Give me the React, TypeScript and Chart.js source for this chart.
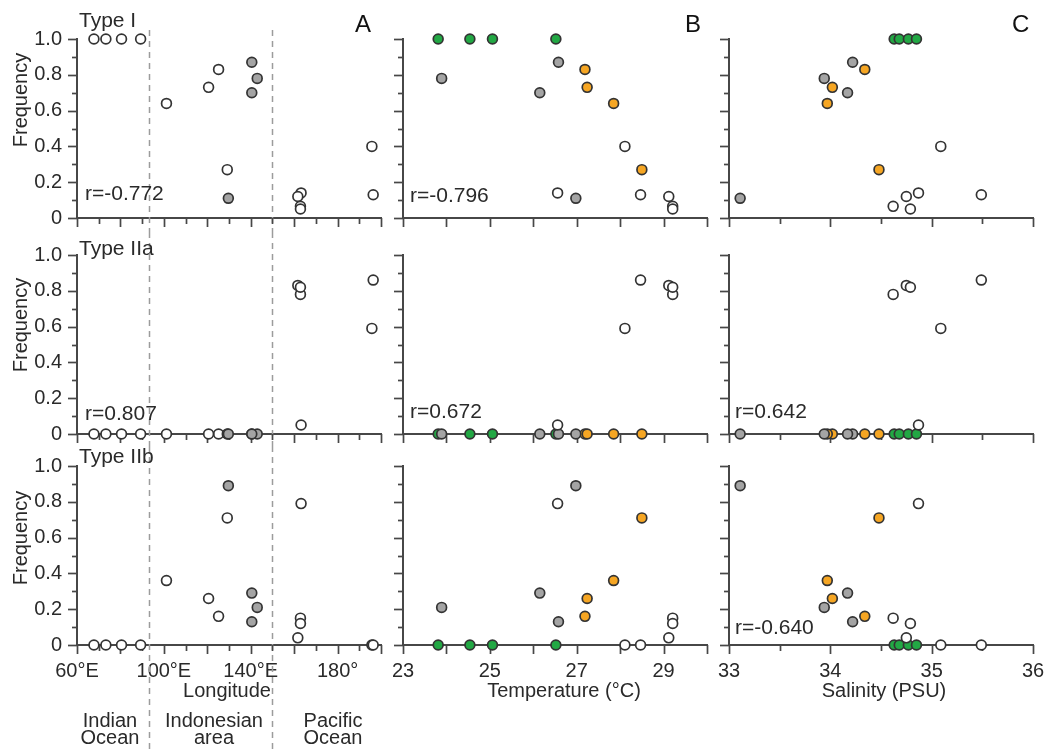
import React, { useEffect, useRef } from 'react';
import { Chart, registerables } from 'chart.js';

Chart.register(...registerables);

// ---------------- DATA ----------------
// station groups: indian (green in B/C), indo (orange in B/C), gray, pac (white)
const stationGroup = [
  'indian', 'indian', 'indian', 'indian',
  'indo', 'indo', 'indo', 'indo',
  'gray', 'gray', 'gray', 'gray',
  'pac', 'pac', 'pac', 'pac', 'pac', 'pac',
];
const longitude = [67.8, 73.3, 80.5, 89.3, 125.2, 120.6, 101.2, 129.2, 140.5, 143.0, 140.5, 129.7, 163.2, 161.7, 162.9, 162.9, 195.8, 196.4];
const temperature = [23.81, 24.54, 25.06, 26.52, 27.19, 27.24, 27.85, 28.5, 26.58, 23.89, 26.15, 26.98, 26.56, 29.12, 29.21, 29.21, 28.11, 28.47];
const salinity = [34.63, 34.68, 34.77, 34.85, 34.34, 34.02, 33.97, 34.48, 34.22, 33.94, 34.17, 33.11, 34.87, 34.75, 34.62, 34.79, 35.09, 35.49];
const freqTypeI = [1, 1, 1, 1, 0.83, 0.73, 0.64, 0.27, 0.87, 0.78, 0.7, 0.11, 0.14, 0.12, 0.065, 0.05, 0.4, 0.13];
const freqTypeIIa = [0, 0, 0, 0, 0, 0, 0, 0, 0, 0, 0, 0, 0.05, 0.83, 0.78, 0.82, 0.59, 0.86];
const freqTypeIIb = [0, 0, 0, 0, 0.16, 0.26, 0.36, 0.71, 0.13, 0.21, 0.29, 0.89, 0.79, 0.04, 0.15, 0.12, 0, 0];

const typeLabels = ['Type I', 'Type IIa', 'Type IIb'];
const panelLetters = ['A', 'B', 'C'];
const corrLongitude = ['r=-0.772', 'r=0.807', ''];
const corrTemperature = ['r=-0.796', 'r=0.672', ''];
const corrSalinity = ['', 'r=0.642', 'r=-0.640'];
const axisTitles = ['Longitude', 'Temperature (°C)', 'Salinity (PSU)'];
const regionBounds = [93, 150];
const regionNames = [['Indian', 'Ocean'], ['Indonesian', 'area'], ['Pacific', 'Ocean']];

const lonRange = [60, 200];
const lonLabelTicks = [60, 100, 140, 180];
const lonTickLabels = ['60°E', '100°E', '140°E', '180°'];
const lonMajor = [60, 80, 100, 120, 140, 160, 180, 200];
const lonMinor = [70, 90, 110, 130, 150, 170, 190];

const tempRange = [23, 30];
const tempLabelTicks = [23, 25, 27, 29];
const tempTickLabels = ['23', '25', '27', '29'];
const tempMajor = [23, 24, 25, 26, 27, 28, 29, 30];
const tempMinor: number[] = [];

const salRange = [33, 36];
const salLabelTicks = [33, 34, 35, 36];
const salTickLabels = ['33', '34', '35', '36'];
const salMajor = [33, 34, 35, 36];
const salMinor = [33.5, 34.5, 35.5];

const freqRange = [0, 1];
const freqLabelTicks = [0, 0.2, 0.4, 0.6, 0.8, 1];
const freqTickLabels = ['0', '0.2', '0.4', '0.6', '0.8', '1.0'];
const freqMajor = [0, 0.2, 0.4, 0.6, 0.8, 1];
const freqMinor = [0.1, 0.3, 0.5, 0.7, 0.9];

// ---------------- STYLE / LAYOUT ----------------
const FONT = "'Liberation Sans', Arial, Helvetica, sans-serif";
const TEXT = '#2a2a2a';
const AXIS = '#474747';
const fills: Record<string, string[]> = {
  // [column A, columns B/C]
  indian: ['#ffffff', '#22a844'],
  indo: ['#ffffff', '#f6a623'],
  gray: ['#a4a4a4', '#a4a4a4'],
  pac: ['#ffffff', '#ffffff'],
};
const drawOrder = ['pac', 'gray', 'indo', 'indian'];

const COLS = [
  { left: 0, width: 392, yAxisW: 77, padRight: 11 },
  { left: 392, width: 324, yAxisW: 11, padRight: 9 },
  { left: 716, width: 331, yAxisW: 13, padRight: 14 },
];
const ROWS = [
  { top: 0, height: 232, padTop: 39, xAxisH: 14 },
  { top: 232, height: 214, padTop: 23, xAxisH: 12 },
  { top: 446, height: 303, padTop: 20, xAxisH: 104 },
];

const xConfigs = [
  { range: lonRange, labelTicks: lonLabelTicks, labels: lonTickLabels, major: lonMajor, minor: lonMinor, values: longitude },
  { range: tempRange, labelTicks: tempLabelTicks, labels: tempTickLabels, major: tempMajor, minor: tempMinor, values: temperature },
  { range: salRange, labelTicks: salLabelTicks, labels: salTickLabels, major: salMajor, minor: salMinor, values: salinity },
];
const yValuesByRow = [freqTypeI, freqTypeIIa, freqTypeIIb];

function labelFor(v: number, ticks: number[], labels: string[]) {
  const i = ticks.findIndex((t) => Math.abs(t - v) < 1e-6);
  return i >= 0 ? labels[i] : '';
}

function makeDecor(cfg: any) {
  return {
    id: 'decor',
    beforeDatasetsDraw(chart: any) {
      const { ctx, chartArea, scales } = chart;
      const xs = scales.x;
      const ys = scales.y;
      ctx.save();
      if (cfg.dashed) {
        ctx.strokeStyle = '#9c9c9c';
        ctx.lineWidth = 1.5;
        ctx.setLineDash([6, 5]);
        for (const v of cfg.dashed) {
          const px = Math.round(xs.getPixelForValue(v)) + 0.5;
          ctx.beginPath();
          ctx.moveTo(px, cfg.dashTop);
          ctx.lineTo(px, chart.height);
          ctx.stroke();
        }
        ctx.setLineDash([]);
      }
      ctx.strokeStyle = AXIS;
      ctx.lineWidth = 1.7;
      const xSets: [number[], number][] = [[cfg.xMajor, 9], [cfg.xMinor, 6]];
      for (const [vals, len] of xSets) {
        for (const v of vals) {
          const px = Math.round(xs.getPixelForValue(v)) + 0.5;
          ctx.beginPath();
          ctx.moveTo(px, chartArea.bottom);
          ctx.lineTo(px, chartArea.bottom + len);
          ctx.stroke();
        }
      }
      const ySets: [number[], number][] = [[freqMajor, 9], [freqMinor, 5]];
      for (const [vals, len] of ySets) {
        for (const v of vals) {
          const py = Math.round(ys.getPixelForValue(v)) + 0.5;
          ctx.beginPath();
          ctx.moveTo(chartArea.left, py);
          ctx.lineTo(chartArea.left - len, py);
          ctx.stroke();
        }
      }
      ctx.restore();
    },
  };
}

function Panel({ col, row }: { col: number; row: number }) {
  const ref = useRef<HTMLCanvasElement | null>(null);
  const c = COLS[col];
  const r = ROWS[row];
  useEffect(() => {
    const xc = xConfigs[col];
    const yv = yValuesByRow[row];
    const datasets = drawOrder.map((g) => ({
      label: g,
      data: stationGroup
        .map((sg, i) => (sg === g ? { x: xc.values[i], y: yv[i] } : null))
        .filter((p) => p !== null),
      backgroundColor: fills[g][col === 0 ? 0 : 1],
      borderColor: '#333333',
      borderWidth: 1.7,
      pointRadius: 4.9,
      pointHoverRadius: 4.9,
      clip: false as any,
    }));
    const decor = makeDecor({
      dashed: col === 0 ? regionBounds : null,
      dashTop: row === 0 ? 30 : 0,
      xMajor: xc.major,
      xMinor: xc.minor,
    });
    const chart = new Chart(ref.current as HTMLCanvasElement, {
      type: 'scatter',
      data: { datasets: datasets as any },
      options: {
        responsive: false,
        animation: false,
        events: [],
        layout: { padding: { top: r.padTop, right: c.padRight, left: 0, bottom: 0 } },
        plugins: { legend: { display: false }, tooltip: { enabled: false } },
        scales: {
          x: {
            type: 'linear',
            min: xc.range[0],
            max: xc.range[1],
            grid: { display: false, drawTicks: false },
            border: { display: true, color: AXIS, width: 2 },
            ticks: {
              display: row === 2,
              padding: 14,
              color: TEXT,
              font: { family: FONT, size: 20 },
              maxRotation: 0,
              autoSkip: false,
              callback: (v: any) => labelFor(Number(v), xc.labelTicks, xc.labels),
            },
            afterBuildTicks: (s: any) => {
              s.ticks = xc.labelTicks.map((v) => ({ value: v }));
            },
            afterFit: (s: any) => {
              s.height = r.xAxisH;
              s.paddingLeft = 0;
              s.paddingRight = 0;
              s.paddingTop = 0;
              s.paddingBottom = 0;
            },
          },
          y: {
            type: 'linear',
            min: freqRange[0],
            max: freqRange[1],
            grid: { display: false, drawTicks: false },
            border: { display: true, color: AXIS, width: 2 },
            ticks: {
              display: col === 0,
              padding: 15,
              color: TEXT,
              font: { family: FONT, size: 20 },
              autoSkip: false,
              callback: (v: any) => labelFor(Number(v), freqLabelTicks, freqTickLabels),
            },
            afterBuildTicks: (s: any) => {
              s.ticks = freqLabelTicks.map((v) => ({ value: v }));
            },
            afterFit: (s: any) => {
              s.width = c.yAxisW;
              s.paddingLeft = 0;
              s.paddingRight = 0;
              s.paddingTop = 0;
              s.paddingBottom = 0;
            },
          },
        },
      } as any,
      plugins: [decor as any],
    });
    return () => chart.destroy();
  }, [col, row]);
  return (
    <canvas
      ref={ref}
      width={c.width}
      height={r.height}
      style={{ position: 'absolute', left: c.left, top: r.top, width: c.width, height: r.height }}
    />
  );
}

const txt = (extra: React.CSSProperties): React.CSSProperties => ({
  position: 'absolute',
  fontFamily: FONT,
  color: TEXT,
  whiteSpace: 'nowrap',
  lineHeight: 1,
  ...extra,
});

export default function App() {
  useEffect(() => {
    document.body.style.margin = '0';
    document.body.style.background = '#ffffff';
  }, []);
  const typeTops = [9, 237, 445];
  const freqCenters = [100, 325, 538];
  const letterLefts = [355, 685, 1012];
  const corrSets = [
    { texts: corrLongitude, left: 85, tops: [182, 402, 616] },
    { texts: corrTemperature, left: 410, tops: [184, 400, 616] },
    { texts: corrSalinity, left: 735, tops: [184, 400, 616] },
  ];
  const titleCenters = [227, 564, 884];
  const regionX = [110, 214, 333];
  return (
    <div style={{ position: 'absolute', left: 0, top: 0, width: 1047, height: 749, background: '#fff', overflow: 'hidden' }}>
      {[0, 1, 2].map((row) => [0, 1, 2].map((col) => <Panel key={`${row}-${col}`} col={col} row={row} />))}
      {typeLabels.map((t, i) => (
        <div key={t} style={txt({ left: 79, top: typeTops[i], fontSize: 21 })}>{t}</div>
      ))}
      {panelLetters.map((t, i) => (
        <div key={t} style={txt({ left: letterLefts[i], top: 12, fontSize: 24, color: '#111' })}>{t}</div>
      ))}
      {freqCenters.map((cy, i) => (
        <div
          key={'f' + i}
          style={txt({ left: 20, top: cy, fontSize: 20, transform: 'translate(-50%, -50%) rotate(-90deg)' })}
        >
          Frequency
        </div>
      ))}
      {corrSets.map((s, ci) =>
        s.texts.map((t, ri) =>
          t ? (
            <div key={`r${ci}${ri}`} style={txt({ left: s.left, top: s.tops[ri], fontSize: 21 })}>{t}</div>
          ) : null
        )
      )}
      {axisTitles.map((t, i) => (
        <div key={t} style={txt({ left: titleCenters[i], top: 680, fontSize: 20, transform: 'translateX(-50%)' })}>{t}</div>
      ))}
      {regionNames.map((lines, i) => (
        <div
          key={lines[0]}
          style={txt({ left: regionX[i], top: 712, fontSize: 20, lineHeight: '17px', textAlign: 'center', transform: 'translateX(-50%)' })}
        >
          {lines[0]}
          <br />
          {lines[1]}
        </div>
      ))}
    </div>
  );
}
